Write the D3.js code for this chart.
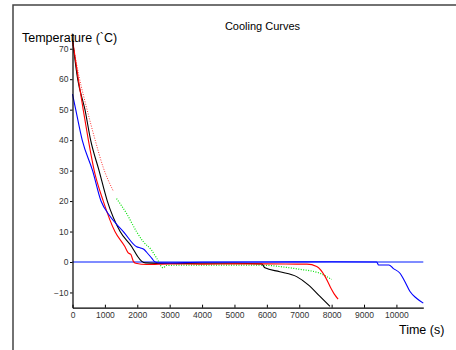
<!DOCTYPE html>
<html>
<head>
<meta charset="utf-8">
<script src="https://cdn.jsdelivr.net/npm/d3@7"></script>
<style>
  body { margin: 0; background: #fff; }
  svg { display: block; font-family: "Liberation Sans", Arial, sans-serif; }
</style>
</head>
<body>
<svg width="456" height="350"></svg>
<script>
const svg = d3.select('svg')

// cooling curves, time in s, temperature in degC
const redTime = [0, 180, 330, 490, 670, 950, 1310, 1620, 1720, 1800, 1880, 1950, 2300, 3000, 4000, 5000, 6000, 7000, 7240, 7540, 7800, 7950, 8100, 8200]
const redTemp = [73, 60, 50, 40, 30, 20, 10, 5, 3, 2.5, 0.2, -0.4, -0.8, -0.6, -0.7, -0.6, -0.6, -0.7, -0.7, -1.5, -4.8, -8, -10.8, -12.2]

const redDotTime = [0, 200, 450, 700, 950, 1250]
const redDotTemp = [72, 61, 50, 40, 31, 23.5]

const blackTime = [0, 160, 385, 560, 820, 1075, 1470, 1830, 2000, 2140, 2250, 3000, 4000, 5000, 5840, 5940, 6400, 6920, 7280, 7640, 7950]
const blackTemp = [73, 60, 50, 40, 30, 20, 10, 5, 2, 0.2, -0.3, -0.5, -0.4, -0.4, -0.6, -1.9, -3.2, -4.8, -7.5, -11.3, -14.6]

const blueTime = [0, 100, 300, 620, 880, 1160, 1570, 1980, 2100, 2200, 2290, 2450, 2550, 2700, 4000, 6000, 8000, 9390, 9450, 9770, 9900, 10110, 10260, 10420, 10620, 10830]
const blueTemp = [55.1, 50, 40, 30, 20, 15, 10, 5, 4.6, 4.2, 3.2, 1.2, 0, -0.3, -0.1, 0, 0.1, 0, -1, -1, -2.1, -3.7, -6.4, -9.7, -11.9, -13.5]

const greenTime = [1360, 1670, 1980, 2190, 2440, 2600, 2800, 2900, 4000, 5000, 6000, 6400, 7020, 7640, 7800, 8000]
const greenTemp = [20.8, 15.9, 9.9, 6.6, 3.9, 1.2, -1.9, -1.1, -1, -1, -1.1, -1.5, -2.4, -3.7, -4.5, -5.7]

const zeroTime = [0, 10830]
const zeroTemp = [0, 0]

const xTicks = [0, 1000, 2000, 3000, 4000, 5000, 6000, 7000, 8000, 9000, 10000]
const yTicks = [-10, 0, 10, 20, 30, 40, 50, 60, 70]

const x = d3.scaleLinear().domain([0, 10830]).range([72.5, 423.3])
const y = d3.scaleLinear().domain([-15, 75]).range([307.7, 33.5])

// outer frame
svg.append('rect')
    .attr('x', 13).attr('y', 5)
    .attr('width', 480).attr('height', 380)
    .attr('fill', 'none')
    .attr('stroke', '#444')
    .attr('stroke-width', 1.5)

const line = d3.line()
    .x(d => x(d[0]))
    .y(d => y(d[1]))
    .curve(d3.curveMonotoneX)

const series = [
    { t: zeroTime, v: zeroTemp, color: '#5566ff', width: 1.5, dash: null },
    { t: redDotTime, v: redDotTemp, color: '#ff3333', width: 1, dash: '1,1.5' },
    { t: greenTime, v: greenTemp, color: '#00e000', width: 1.2, dash: '1,1.5' },
    { t: blackTime, v: blackTemp, color: '#000', width: 1.1, dash: null },
    { t: redTime, v: redTemp, color: '#ff0000', width: 1.1, dash: null },
    { t: blueTime, v: blueTemp, color: '#0000ff', width: 1.1, dash: null }
]

svg.append('g')
    .selectAll('path')
    .data(series)
    .join('path')
        .attr('d', s => line(d3.zip(s.t, s.v)))
        .attr('fill', 'none')
        .attr('stroke', s => s.color)
        .attr('stroke-width', s => s.width)
        .attr('stroke-dasharray', s => s.dash)

// axes
const xAxis = svg.append('g')
    .attr('transform', `translate(0, ${y(-15)})`)
    .call(d3.axisBottom(x)
        .tickValues(xTicks)
        .tickFormat(d3.format('d'))
        .tickSizeInner(-3)
        .tickSizeOuter(0)
        .tickPadding(4))

const yAxis = svg.append('g')
    .attr('transform', `translate(${x(0)}, 0)`)
    .call(d3.axisLeft(y)
        .tickValues(yTicks)
        .tickSizeInner(2.5)
        .tickSizeOuter(0)
        .tickPadding(1.5))

for (const g of [xAxis, yAxis]) {
    g.select('.domain').attr('stroke', '#000').attr('stroke-width', 1.2)
    g.selectAll('.tick line').attr('stroke', '#000')
    g.selectAll('.tick text')
        .attr('fill', '#333')
        .style('font-size', '8.5px')
        .style('font-family', '"Liberation Sans", Arial, sans-serif')
}

// labels
svg.append('text')
    .attr('x', 262.5).attr('y', 30)
    .attr('text-anchor', 'middle')
    .style('font-size', '11px')
    .text('Cooling Curves')

svg.append('text')
    .attr('x', 22).attr('y', 41.7)
    .style('font-size', '12.5px')
    .text('Temperature (`C)')

svg.append('text')
    .attr('x', 399).attr('y', 334.3)
    .style('font-size', '12.5px')
    .text('Time (s)')
</script>
</body>
</html>
